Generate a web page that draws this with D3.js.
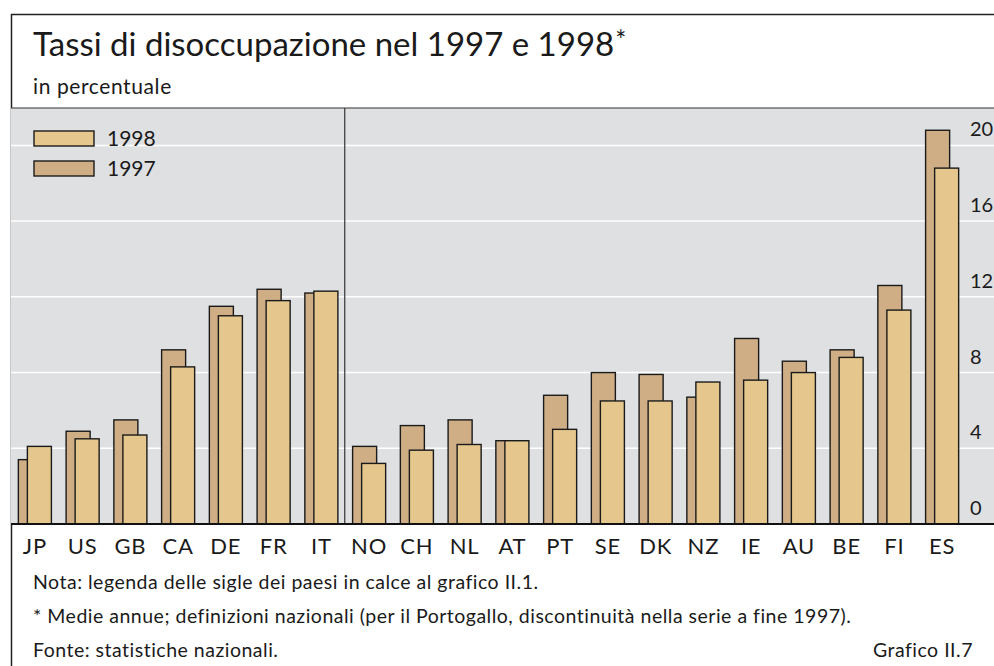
<!DOCTYPE html>
<meta charset="utf-8">
<head>
    <script src="https://d3js.org/d3.v7.min.js"></script>
</head>
<style>
    body { margin: 0; background: #fff; }
    text { font-family: Lato, "Open Sans", sans-serif; fill: #1a1a1a; }
</style>
<body>
<script>
'use strict';

const countries = ["JP", "US", "GB", "CA", "DE", "FR", "IT", "NO", "CH", "NL",
    "AT", "PT", "SE", "DK", "NZ", "IE", "AU", "BE", "FI", "ES"];
const rate1997 = [3.4, 4.9, 5.5, 9.2, 11.5, 12.4, 12.2, 4.1, 5.2, 5.5,
    4.4, 6.8, 8.0, 7.9, 6.7, 9.8, 8.6, 9.2, 12.6, 20.8];
const rate1998 = [4.1, 4.5, 4.7, 8.3, 11.0, 11.8, 12.3, 3.2, 3.9, 4.2,
    4.4, 5.0, 6.5, 6.5, 7.5, 7.6, 8.0, 8.8, 11.3, 18.8];
const yTicks = [0, 4, 8, 12, 16, 20];
const notes = [
    "Nota: legenda delle sigle dei paesi in calce al grafico II.1.",
    "* Medie annue; definizioni nazionali (per il Portogallo, discontinuità nella serie a fine 1997).",
    "Fonte: statistiche nazionali."
];

const W = 994, H = 666;
const plot = { left: 11, right: 966, top: 108, bottom: 524 };
const col97 = "#cfae86", col98 = "#e5c78d", grey = "#dfe0e2";

const svg = d3.select("body").append("svg")
    .attr("width", W).attr("height", H);

// outer frame (top + left)
svg.append("path").attr("d", `M${W},14.5H11.5V${H}`)
    .attr("fill", "none").attr("stroke", "#222").attr("stroke-width", 1.5);

svg.append("text").attr("x", 33).attr("y", 56)
    .style("font-size", "33px")
    .text("Tassi di disoccupazione nel 1997 e 1998")
    .append("tspan").attr("dy", -6).attr("dx", 1).style("font-size", "26px").text("*");
svg.append("text").attr("x", 33).attr("y", 94)
    .style("font-size", "21px").style("letter-spacing", "0.6px").text("in percentuale");

// plot background
svg.append("rect").attr("x", plot.left).attr("y", plot.top)
    .attr("width", W - plot.left).attr("height", plot.bottom - plot.top)
    .attr("fill", grey);
svg.append("line").attr("x1", plot.left).attr("x2", W)
    .attr("y1", plot.top).attr("y2", plot.top)
    .attr("stroke", "#333").attr("stroke-width", 1.2);

const x = d3.scaleBand().domain(countries).range([plot.left, plot.right]);
const y = d3.scaleLinear().domain([0, 22]).range([plot.bottom, plot.bottom - 22 * 18.93]);

// gridlines
svg.append("g").selectAll("line").data(yTicks.slice(1)).join("line")
    .attr("x1", plot.left).attr("x2", W)
    .attr("y1", d => y(d)).attr("y2", d => y(d))
    .attr("stroke", "#fff").attr("stroke-width", 1.5);

// right axis labels
svg.append("g").selectAll("text").data(yTicks).join("text")
    .attr("x", 970).attr("y", d => y(d) - 9)
    .style("font-size", "20px").text(d => d);

// divider between G7 and others
svg.append("line").attr("x1", x("NO") - 0.5).attr("x2", x("NO") - 0.5)
    .attr("y1", plot.top).attr("y2", plot.bottom)
    .attr("stroke", "#333").attr("stroke-width", 1.2);

const step = x.step();
const bw = step * 0.503, shift = step * 0.189, off = (step - bw - shift) / 2;

const bars = svg.append("g");
bars.selectAll(".b97").data(countries).join("rect").attr("class", "b97")
    .attr("x", d => x(d) + off).attr("width", bw)
    .attr("y", (d, i) => y(rate1997[i])).attr("height", (d, i) => y(0) - y(rate1997[i]))
    .attr("fill", col97).attr("stroke", "#1a1a1a").attr("stroke-width", 1.4);
bars.selectAll(".b98").data(countries).join("rect").attr("class", "b98")
    .attr("x", d => x(d) + off + shift).attr("width", bw)
    .attr("y", (d, i) => y(rate1998[i])).attr("height", (d, i) => y(0) - y(rate1998[i]))
    .attr("fill", col98).attr("stroke", "#1a1a1a").attr("stroke-width", 1.4);

// baseline
svg.append("line").attr("x1", plot.left).attr("x2", W)
    .attr("y1", plot.bottom).attr("y2", plot.bottom)
    .attr("stroke", "#111").attr("stroke-width", 2.2);

// category labels
svg.append("g").selectAll("text").data(countries).join("text")
    .attr("x", d => x(d) + off + (bw + shift) / 2).attr("y", 554)
    .attr("text-anchor", "middle").style("font-size", "22px").style("letter-spacing", "0.8px")
    .text(d => d);

// legend
const legend = [["1998", col98], ["1997", col97]];
const lg = svg.append("g").selectAll("g").data(legend).join("g")
    .attr("transform", (d, i) => `translate(34,${131 + i * 30})`);
lg.append("rect").attr("width", 60).attr("height", 15)
    .attr("fill", d => d[1]).attr("stroke", "#1a1a1a").attr("stroke-width", 1.4);
lg.append("text").attr("x", 73).attr("y", 15).style("font-size", "21px").text(d => d[0]);

// notes
svg.append("g").selectAll("text").data(notes).join("text")
    .attr("x", 33).attr("y", (d, i) => 589 + i * 34)
    .style("font-size", "19.5px").style("letter-spacing", "0.5px").text(d => d);
svg.append("text").attr("x", 973).attr("y", 657).attr("text-anchor", "end")
    .style("font-size", "19.5px").style("letter-spacing", "0.5px").text("Grafico II.7");
</script>
</body>
